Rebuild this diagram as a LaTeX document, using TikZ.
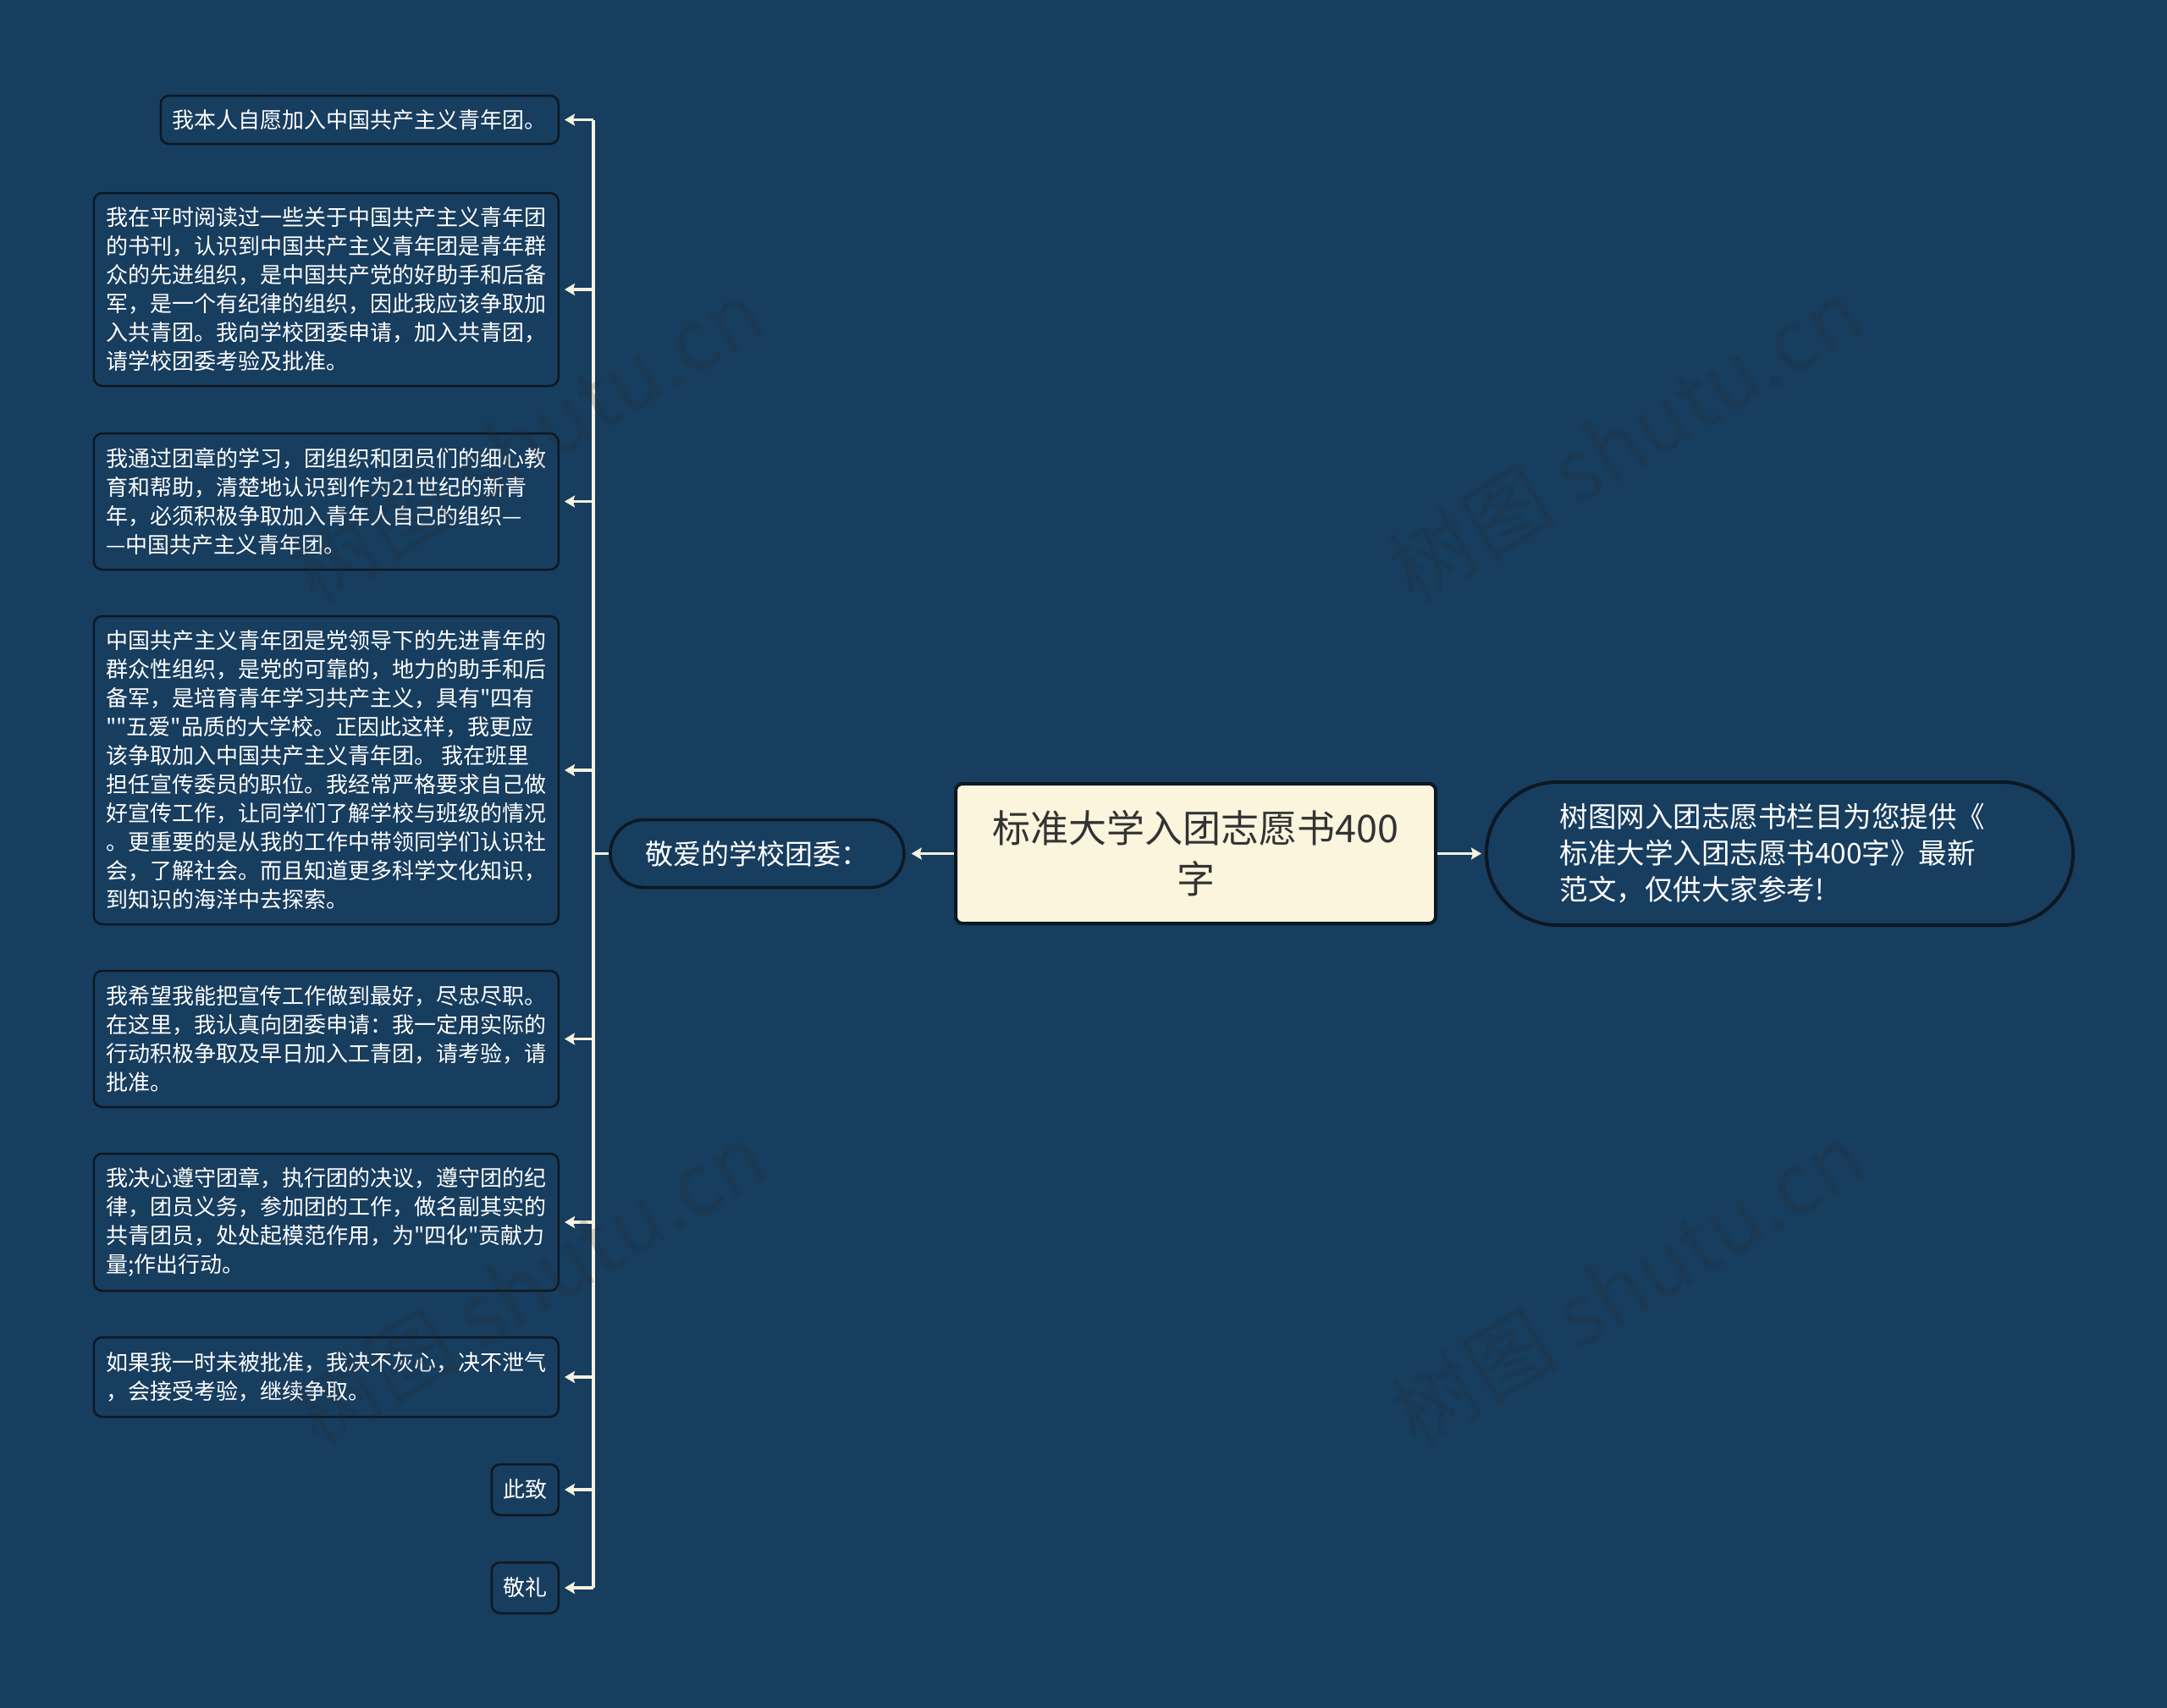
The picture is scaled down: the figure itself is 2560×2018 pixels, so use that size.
\documentclass[tikz,border=0pt]{standalone}
\usepackage{fontspec}
\setmainfont{Noto Sans CJK SC}[Ligatures=TeXOff]
\usetikzlibrary{arrows.meta}
\definecolor{bg}{HTML}{173D5F}
\definecolor{bdr}{HTML}{0C1822}
\definecolor{cream}{HTML}{F6F2DE}
\definecolor{centerfill}{HTML}{FBF5DE}
\definecolor{centertext}{HTML}{333333}
\definecolor{wmcol}{HTML}{2A2A2A}
\begin{document}
\begin{tikzpicture}[x=1pt,y=-1pt,
  leaf/.style={draw=bdr, line width=2.5pt, fill=bg, rounded corners=10pt,
    text=white, font=\fontsize{26}{34}\selectfont, align=left, inner sep=0pt,
    anchor=east},
  conn/.style={draw=cream, line width=3.5pt,
    -{Stealth[length=12pt,width=14pt,inset=2pt]}, shorten >=6pt},
  plain/.style={draw=cream, line width=3.5pt},
  wm/.style={text=wmcol, opacity=0.18, font=\fontsize{100}{100}\selectfont, rotate=31}
]
\fill[bg] (0,0) rectangle (2560,2018);
\useasboundingbox (0,0) rectangle (2560,2018);

\coordinate (spine) at (701,0);

% leaf boxes
\node[leaf, minimum width=470pt, minimum height=57pt] (b1) at (661,141.5)
  {我本人自愿加入中国共产主义青年团。};
\node[leaf, minimum width=549pt, minimum height=228pt] (b2) at (661,342)
  {我在平时阅读过一些关于中国共产主义青年团\\
   的书刊，认识到中国共产主义青年团是青年群\\
   众的先进组织，是中国共产党的好助手和后备\\
   军，是一个有纪律的组织，因此我应该争取加\\
   入共青团。我向学校团委申请，加入共青团，\\
   请学校团委考验及批准。};
\node[leaf, minimum width=549pt, minimum height=161pt] (b3) at (661,592.5)
  {我通过团章的学习，团组织和团员们的细心教\\
   育和帮助，清楚地认识到作为21世纪的新青\\
   年，必须积极争取加入青年人自己的组织—\\
   —中国共产主义青年团。};
\node[leaf, minimum width=549pt, minimum height=364pt] (b4) at (661,910)
  {中国共产主义青年团是党领导下的先进青年的\\
   群众性组织，是党的可靠的，地力的助手和后\\
   备军，是培育青年学习共产主义，具有"四有\\
   ""五爱"品质的大学校。正因此这样，我更应\\
   该争取加入中国共产主义青年团。 我在班里\\
   担任宣传委员的职位。我经常严格要求自己做\\
   好宣传工作，让同学们了解学校与班级的情况\\
   。更重要的是从我的工作中带领同学们认识社\\
   会，了解社会。而且知道更多科学文化知识，\\
   到知识的海洋中去探索。};
\node[leaf, minimum width=549pt, minimum height=161pt] (b5) at (661,1227.5)
  {我希望我能把宣传工作做到最好，尽忠尽职。\\
   在这里，我认真向团委申请：我一定用实际的\\
   行动积极争取及早日加入工青团，请考验，请\\
   批准。};
\node[leaf, minimum width=549pt, minimum height=162pt] (b6) at (661,1444)
  {我决心遵守团章，执行团的决议，遵守团的纪\\
   律，团员义务，参加团的工作，做名副其实的\\
   共青团员，处处起模范作用，为"四化"贡献力\\
   量;作出行动。};
\node[leaf, minimum width=549pt, minimum height=94pt] (b7) at (661,1627)
  {如果我一时未被批准，我决不灰心，决不泄气\\
   ，会接受考验，继续争取。};
\node[leaf, minimum width=79pt, minimum height=60pt] (b8) at (661,1760) {此致};
\node[leaf, minimum width=79pt, minimum height=60pt] (b9) at (661,1876) {敬礼};

% main nodes
\node[draw=bdr, line width=3.5pt, fill=bg, rounded corners=40pt,
  minimum width=347pt, minimum height=80pt, inner sep=0pt,
  text=white, font=\fontsize{33}{43}\selectfont] (dear) at (894.5,1008.5)
  {敬爱的学校团委：};
\node[draw=bdr, line width=4pt, fill=centerfill, rounded corners=8pt,
  minimum width=567pt, minimum height=165pt, inner sep=0pt, align=center,
  text=centertext, font=\fontsize{45}{60}\selectfont] (root) at (1412.5,1008.5)
  {标准大学入团志愿书400\\字};
\node[draw=bdr, line width=4pt, fill=bg, rounded corners=84pt,
  minimum width=693pt, minimum height=169pt, inner sep=0pt,
  text width=520pt, align=left,
  text=white, font=\fontsize{33.5}{43}\selectfont] (info) at (2102.5,1008.5)
  {树图网入团志愿书栏目为您提供《\\
   标准大学入团志愿书400字》最新\\
   范文，仅供大家参考!};

% connectors
\draw[conn, shorten >=7pt] (root.west) -- (dear.east);
\draw[conn, shorten >=4pt] (root.east) -- (info.west);
\draw[plain] (dear.west) -- (dear.west -| spine);
\draw[plain] (b1.east -| spine) -- (b9.east -| spine);
\foreach \b in {b1,b2,b3,b4,b5,b6,b7,b8,b9}{
  \draw[conn] (\b.east -| spine) -- (\b.east);
}

% watermarks
\node[wm] (wm1) at (622,520) {树图 shutu.cn};
\node[wm] (wm2) at (1920,520) {树图 shutu.cn};
\node[wm] (wm3) at (625,1517) {树图 shutu.cn};
\node[wm] (wm4) at (1923,1517) {树图 shutu.cn};
\end{tikzpicture}
\end{document}
